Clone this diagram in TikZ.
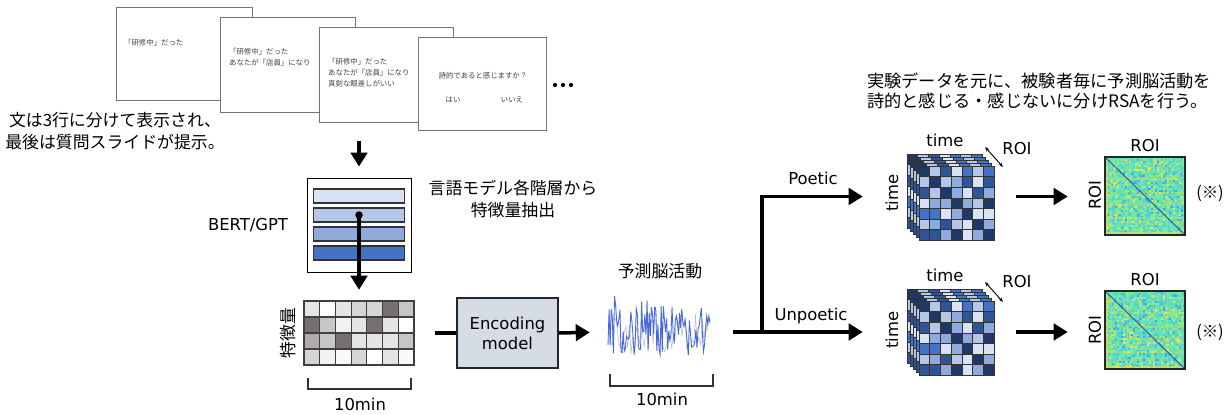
\documentclass[tikz,border=0pt]{standalone}
\usepackage{fontspec}
\setmainfont{DejaVu Sans}
\newfontfamily\jpfont{Noto Sans CJK JP}
\usetikzlibrary{arrows.meta,positioning}

\newcommand{\pxu}{0.03cm}

\definecolor{bl1}{HTML}{DAE3F3}
\definecolor{bl2}{HTML}{B4C7E7}
\definecolor{bl3}{HTML}{8FAADC}
\definecolor{bl4}{HTML}{4472C4}
\definecolor{bl5}{HTML}{2F5597}
\definecolor{bl6}{HTML}{203864}
\definecolor{encfill}{HTML}{D6DCE5}
\definecolor{gA}{HTML}{E4E4E4}
\definecolor{gW}{HTML}{FFFFFF}
\definecolor{gB}{HTML}{D6D6D6}
\definecolor{gC}{HTML}{C6C6C6}
\definecolor{gD}{HTML}{767171}
\definecolor{gE}{HTML}{F2F2F2}
\definecolor{gF}{HTML}{AEAAAA}
\definecolor{gG}{HTML}{FAFAFA}
\definecolor{sigblue}{RGB}{70,105,225}
\definecolor{rsmA}{RGB}{100,228,180}
\definecolor{rsmB}{RGB}{80,208,222}
\definecolor{rsmC}{RGB}{140,235,130}
\definecolor{rsmD}{RGB}{228,228,80}
\definecolor{rsmE}{RGB}{60,170,230}

\pgfmathdeclarerandomlist{rsmcols}{{rsmA}{rsmA}{rsmA}{rsmA}{rsmA}{rsmB}{rsmB}{rsmB}{rsmB}{rsmC}{rsmC}{rsmC}{rsmD}{rsmE}}

\tikzset{
  slide/.style={draw=black!55, fill=white, line width=0.7pt, inner sep=0},
  slidetxt/.style={font=\jpfont\fontsize{6.3}{9.4}\selectfont, text=black!75,
    inner sep=0, align=left, anchor=west},
  lbl/.style={font=\fontsize{14}{17}\selectfont, inner sep=0},
  jplbl/.style={font=\jpfont\fontsize{14.4}{19}\selectfont, inner sep=0, align=center},
  bertlayer/.style={draw=black!80, line width=1.1pt, minimum width=91*\pxu,
    minimum height=14*\pxu, inner sep=0},
  encbox/.style={draw=black!85, fill=encfill, line width=0.9pt, minimum width=101*\pxu,
    minimum height=70*\pxu, align=center, font=\fontsize{14}{17}\selectfont},
  area/.style={inner sep=0, minimum width=#1},
  thk/.style={line width=3pt},
  arr/.style={line width=3pt, line join=miter, -{Triangle[length=12pt,width=14pt]}},
  bracket/.style={line width=1pt, black!80},
}

% one 7x7 slice of the cube
\newcommand{\roigrid}{%
  \foreach \row [count=\ri from 0] in {%
      {bl6,bl2,bl5,bl1,bl4,bl2,bl4},
      {bl2,bl6,bl2,bl3,bl5,bl1,bl5},
      {bl5,bl2,bl6,bl3,bl1,bl5,bl3},
      {bl1,bl3,bl3,bl6,bl3,bl2,bl6},
      {bl4,bl4,bl1,bl3,bl6,bl1,bl1},
      {bl2,bl3,bl5,bl2,bl1,bl6,bl3},
      {bl5,bl5,bl3,bl6,bl1,bl3,bl6}}{
    \foreach \col [count=\cj from 0] in \row
      \filldraw[fill=\col, draw=black!80, line width=0.4pt]
        (\cj*10.7,\ri*10.6) rectangle ++(10.7,10.6);
  }}
% stacked slices, #1,#2 = top left of the front slice
\newcommand{\roicube}[2]{%
  \foreach \k in {4,3,2,1}{
    \begin{scope}[shift={(#1-3*\k,#2-3*\k)}]
      \roigrid
    \end{scope}
  }
  \begin{scope}[shift={(#1,#2)}]
    \roigrid
  \end{scope}}
% ROI x ROI matrix, #1,#2 = top left
\newcommand{\rsmplot}[2]{%
  \begin{scope}[shift={(#1,#2)}]
    \fill[rsmA] (0,0) rectangle (80,78);
    \foreach \ri in {0,...,39}{
      \foreach \cj in {0,...,39}{
        \pgfmathrandomitem{\rc}{rsmcols}
        \fill[fill=\rc] (\cj*2,\ri*1.95) rectangle ++(2.05,2);
      }
    }
    \foreach \s in {3,11,18,24,31,37}{
      \fill[rsmD, opacity=0.35] (0,\s*1.95) rectangle ++(80,1.2);
      \fill[rsmD, opacity=0.35] (\s*2,0) rectangle ++(1.2,78);
    }
    \fill[rsmD, opacity=0.6] (0,75) rectangle (80,78);
    \fill[rsmD, opacity=0.6] (0,0) rectangle (2.5,78);
    \draw[bl5, line width=0.8pt] (0,0) -- (80,78);
    \draw[black!85, line width=1pt] (0,0) rectangle (80,78);
  \end{scope}}

\begin{document}
\begin{tikzpicture}[x=0.03cm, y=-0.03cm]
  \useasboundingbox (0,0) rectangle (1232,414);
  \pgfmathsetseed{17}

  % slides
  \node[slide, minimum width=136*\pxu, minimum height=93*\pxu] (s1) at (184,53.5) {};
  \node[slidetxt] (s1t) at (124,43) {「研修中」だった};
  \node[slide, minimum width=135*\pxu, minimum height=95*\pxu] (s2) at (287.5,64.5) {};
  \node[slidetxt] (s2t) at (229,57.5) {「研修中」だった\\あなたが「店員」になり};
  \node[slide, minimum width=134*\pxu, minimum height=95*\pxu] (s3) at (386,74.5) {};
  \node[slidetxt] (s3t) at (328,72.7) {「研修中」だった\\あなたが「店員」になり\\真剣な眼差しがいい};
  \node[slide, minimum width=128*\pxu, minimum height=93*\pxu] (s4) at (482,83.5) {};
  \node[slidetxt, anchor=center] (s4q) at (483,76) {詩的であると感じますか？};
  \node[slidetxt, anchor=center] (s4y) at (453,100) {はい};
  \node[slidetxt, anchor=center] (s4n) at (512,100) {いいえ};
  \foreach \d in {555,563,571}{
    \fill (\d,85) circle (1.8pt);
  }
  \node[jplbl] (caption) at (115,131) {文は3行に分けて表示され、\\最後は質問スライドが提示。};

  % language model
  \coordinate (slidesout) at (359,141);
  \node[draw, line width=0.7pt, minimum width=104*\pxu, minimum height=94*\pxu, inner sep=0] (bert) at (359,225) {};
  \node[bertlayer, fill=bl1] (l1) at (359,196) {};
  \node[bertlayer, fill=bl2] (l2) at (359,215) {};
  \node[bertlayer, fill=bl3] (l3) at (359,234) {};
  \node[bertlayer, fill=bl4] (l4) at (359,253) {};
  \node[lbl] (bertname) at (248,225) {BERT/GPT};
  \node[jplbl] (extract) at (513,199) {言語モデル各階層から\\特徴量抽出};
  \draw[arr, shorten >=0.33cm] (slidesout) -- (bert.north);

  % features
  \node[area=110*\pxu, minimum height=64*\pxu] (feat) at (359,333) {};
  \begin{scope}[shift={(304,301)}]
    \foreach \row [count=\ri from 0] in {%
        {gA,gW,gA,gB,gB,gD,gC},
        {gD,gC,gE,gA,gD,gA,gW},
        {gF,gC,gD,gA,gA,gA,gC},
        {gB,gE,gG,gB,gW,gA,gG}}{
      \foreach \col [count=\cj from 0] in \row
        \filldraw[fill=\col, draw=black!75, line width=0.9pt]
          (\cj*15.71,\ri*16) rectangle ++(15.71,16);
    }
  \end{scope}
  \fill (l2.center) circle (3.2pt);
  \draw[arr, shorten >=0.33cm] (l2.center) -- (feat.north);
  \node[lbl, rotate=90, font=\jpfont\fontsize{14.4}{17}\selectfont] (featname) at (288,333) {特徴量};
  \draw[bracket] (308,378) -- (308,389) -- (411,389) -- (411,378);
  \node[lbl] (featlen) at (360,404) {10min};

  % encoding model
  \node[encbox] (enc) at (507.5,333) {Encoding\\model};
  \draw[thk, shorten <=0.63cm] (feat.east) -- (enc.west);

  % predicted brain activity
  \node[area=104*\pxu, minimum height=80*\pxu] (sig) at (659,332) {};
  \draw[gray!50, line width=0.5pt] plot[domain=609:709, samples=60]
    (\x, {331+18*rand+12*rand*rand*rand});
  \draw[sigblue, line width=0.75pt] plot[domain=608:710, samples=95]
    (\x, {max(292,min(370,330+25*rand+18*rand*rand*rand))});
  \node[jplbl] (signame) at (660,271) {予測脳活動};
  \draw[bracket] (610,374) -- (610,386) -- (713,386) -- (713,374);
  \node[lbl] (siglen) at (662,399) {10min};
  \draw[arr, shorten >=0.51cm] (enc.east) -- (sig.west);

  % RSA per condition
  \node[jplbl, align=left, anchor=west, font=\jpfont\fontsize{14.7}{17}\selectfont] (note)
    at (867,91) {実験データを元に、被験者毎に予測脳活動を\\詩的と感じる・感じないに分けRSAを行う。};

  \node[area=87*\pxu, minimum height=85*\pxu] (cubeP) at (950.5,196.5) {};
  \roicube{919}{166}
  \node[area=87*\pxu, minimum height=86*\pxu] (cubeU) at (950.5,332) {};
  \roicube{919}{301}

  \coordinate (split) at (762,332);
  \draw[arr, shorten <=0.66cm, shorten >=1.32cm] (sig.east) -- (cubeU.west);
  \draw[arr, shorten >=1.32cm] (split) |- (cubeP.west);
  \node[lbl] (poetic) at (813,178) {Poetic};
  \node[lbl] (unpoetic) at (811,316) {Unpoetic};

  % poetic
  \node[lbl] (timeP) at (945,140) {time};
  \node[lbl, rotate=90] (timePv) at (892,193) {time};
  \node[lbl] (roiP) at (1017,149) {ROI};
  \draw[{Stealth[length=4pt]}-{Stealth[length=4pt]}, line width=0.8pt] (985,147) -- (1003,167);
  \node[area=80*\pxu, minimum height=78*\pxu] (rsmP) at (1145,196) {};
  \rsmplot{1105}{157}
  \node[lbl] (rsmPx) at (1145,146) {ROI};
  \node[lbl, rotate=90] (rsmPy) at (1095,195) {ROI};
  \node[lbl, font=\jpfont\fontsize{14}{17}\selectfont] (noteP) at (1210,193) {(※)};
  \draw[arr, shorten <=0.66cm, shorten >=1.11cm] (cubeP.east) -- (cubeP.east -| rsmP.west);

  % unpoetic
  \node[lbl] (timeU) at (945,275) {time};
  \node[lbl, rotate=90] (timeUv) at (892,330) {time};
  \node[lbl] (roiU) at (1017,282) {ROI};
  \draw[{Stealth[length=4pt]}-{Stealth[length=4pt]}, line width=0.8pt] (985,282) -- (1003,302);
  \node[area=80*\pxu, minimum height=78*\pxu] (rsmU) at (1145,330) {};
  \rsmplot{1105}{291}
  \node[lbl] (rsmUx) at (1145,280) {ROI};
  \node[lbl, rotate=90] (rsmUy) at (1095,330) {ROI};
  \node[lbl, font=\jpfont\fontsize{14}{17}\selectfont] (noteU) at (1210,332) {(※)};
  \draw[arr, shorten <=0.66cm, shorten >=1.11cm] (cubeU.east) -- (cubeU.east -| rsmU.west);
\end{tikzpicture}
\end{document}
